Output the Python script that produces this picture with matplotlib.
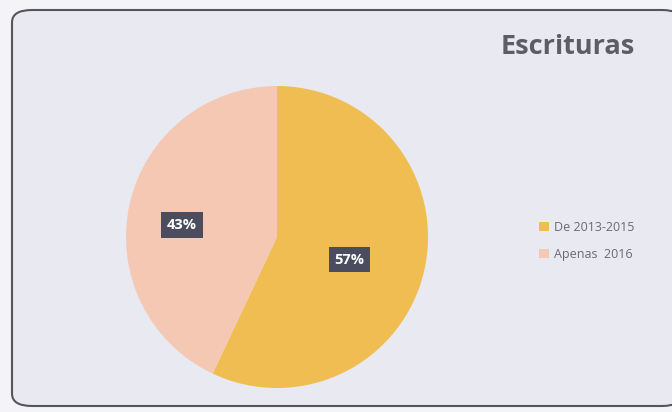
import matplotlib.pyplot as plt
from matplotlib.patches import FancyBboxPatch

# data
labels = ['De 2013-2015', 'Apenas  2016']
values = [57, 43]
colors = ['#f0bd52', '#f5c8b3']
title = 'Escrituras'


def main():
    fig = plt.figure(figsize=(6.72, 4.12), dpi=100)
    fig.patch.set_facecolor('#f4f4f8')

    # rounded frame of the chart area (figure pixel coords / size)
    W, H = 672, 412
    frame = FancyBboxPatch((12 / W, 6 / H), 670 / W, 396 / H,
                           boxstyle='round,pad=0,rounding_size=0.03',
                           transform=fig.transFigure,
                           facecolor='#e9e9f1', edgecolor='#55555a',
                           linewidth=1.5, zorder=0)
    fig.patches.append(frame)

    # pie centred around (277, 237), radius ~150 px
    cx, cy, r = 277, 237, 151
    ax = fig.add_axes([(cx - r) / W, (H - cy - r) / H, 2 * r / W, 2 * r / H])
    ax.set_zorder(2)
    ax.patch.set_alpha(0)
    wedges, _ = ax.pie(values, colors=colors, startangle=90, counterclock=False,
                       wedgeprops=dict(linewidth=0))
    ax.set_xlim(-1, 1)
    ax.set_ylim(-1, 1)
    ax.set_aspect('equal')

    # percentage labels in dark boxes
    box = dict(boxstyle='square,pad=0.4', facecolor='#4b4d5e', edgecolor='none')
    ax.text(0.48, -0.15, f'{values[0]}%', ha='center', va='center', color='white',
            fontsize=10.5, fontweight='bold', bbox=box,
            family=['Open Sans', 'DejaVu Sans'])
    ax.text(-0.63, 0.08, f'{values[1]}%', ha='center', va='center', color='white',
            fontsize=10.5, fontweight='bold', bbox=box,
            family=['Open Sans', 'DejaVu Sans'])

    fig.text(568 / W, 1 - 47 / H, title, ha='center', va='center',
             fontsize=19.5, fontweight='bold', color='#5d5d68',
             family=['Open Sans', 'DejaVu Sans'])

    leg = fig.legend(wedges, labels, loc='center left',
                     bbox_to_anchor=(528 / W, 1 - 241 / H), frameon=False,
                     labelcolor='#6a6a78', handlelength=0.75,
                     handleheight=0.75, labelspacing=1.1, handletextpad=0.4,
                     prop={'family': ['Open Sans', 'DejaVu Sans'], 'size': 9})
    leg.set_zorder(3)

    fig.savefig('out.png', dpi=100, facecolor=fig.get_facecolor())


if __name__ == '__main__':
    main()
